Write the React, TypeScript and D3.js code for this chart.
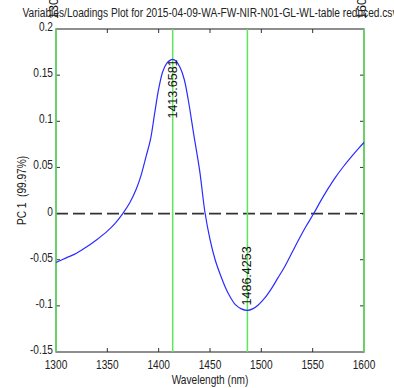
import React from "react";
import * as d3 from "d3";

const wavelengths = [1300, 1310, 1320, 1330, 1340, 1350, 1358, 1365, 1372, 1378, 1383, 1388, 1392, 1396, 1400, 1404, 1408, 1411, 1413.66, 1417, 1421, 1425, 1429, 1434, 1440, 1445, 1450, 1455, 1460, 1465, 1470, 1475, 1480, 1486.43, 1492, 1497, 1503, 1510, 1516, 1523, 1530, 1537, 1544, 1551, 1558, 1565, 1572, 1580, 1588, 1595, 1600];
const loadings = [-0.053, -0.048, -0.043, -0.036, -0.028, -0.019, -0.01, 0.0, 0.012, 0.026, 0.042, 0.063, 0.08, 0.108, 0.135, 0.154, 0.163, 0.166, 0.167, 0.165, 0.158, 0.145, 0.122, 0.087, 0.046, 0.002, -0.028, -0.05, -0.066, -0.08, -0.091, -0.099, -0.103, -0.105, -0.103, -0.099, -0.092, -0.081, -0.07, -0.057, -0.042, -0.027, -0.013, 0.0, 0.014, 0.027, 0.039, 0.051, 0.062, 0.071, 0.077];
const xTicks = [1300, 1350, 1400, 1450, 1500, 1550, 1600];
const yTicks = [-0.15, -0.1, -0.05, 0, 0.05, 0.1, 0.15, 0.2];
const yTickLabels = ["-0.15", "-0.1", "-0.05", "0", "0.05", "0.1", "0.15", "0.2"];
const markerLines = [1300, 1413.6581, 1486.4253, 1600];
const markerLabels = ["1300", "1413.6581", "1486.4253", "1600"];
const markerValues = [0.2, 0.167, -0.105, 0.2];
const titleText = "Variables/Loadings Plot for 2015-04-09-WA-FW-NIR-N01-GL-WL-table reduced.csv";
const xLabel = "Wavelength (nm)";
const yLabel = "PC 1  (99.97%)";

const W = 394, H = 388;
const left = 56, right = 364, top = 29, bottom = 352;

export default function App() {
  const x = d3.scaleLinear().domain([1300, 1600]).range([left, right]);
  const y = d3.scaleLinear().domain([-0.15, 0.2]).range([bottom, top]);
  const line = d3
    .line<number>()
    .x((_, i) => x(wavelengths[i]))
    .y((d) => y(d))
    .curve(d3.curveCatmullRom);
  const font = "Arial, 'Liberation Sans', sans-serif";
  const sx = 0.78;
  const fs = 13;
  return (
    <svg
      width={W}
      height={H}
      style={{ position: "absolute", left: 0, top: 0, background: "#fff" }}
      fontFamily={font}
    >
      <rect x={0} y={0} width={W} height={H} fill="#fff" />
      <line x1={left} x2={right} y1={y(0)} y2={y(0)} stroke="#333" strokeWidth={1.8} strokeDasharray="12,5" />
      <rect x={left} y={top} width={right - left} height={bottom - top} fill="none" stroke="#444" strokeWidth={1.2} />
      {xTicks.slice(1, -1).map((t) => (
        <g key={"xt" + t}>
          <line x1={x(t)} x2={x(t)} y1={bottom} y2={bottom - 4} stroke="#333" />
          <line x1={x(t)} x2={x(t)} y1={top} y2={top + 4} stroke="#333" />
        </g>
      ))}
      {yTicks.slice(1, -1).map((t) => (
        <g key={"yt" + t}>
          <line x1={left} x2={left + 4} y1={y(t)} y2={y(t)} stroke="#333" />
          <line x1={right} x2={right - 4} y1={y(t)} y2={y(t)} stroke="#333" />
        </g>
      ))}
      {markerLines.map((m) => (
        <line key={"m" + m} x1={x(m)} x2={x(m)} y1={top} y2={bottom} stroke="#5ee65e" strokeWidth={1.5} />
      ))}
      <path d={line(loadings) || ""} fill="none" stroke="#2b2bff" strokeWidth={1.2} />
      {xTicks.map((t) => (
        <text
          key={"xl" + t}
          transform={`translate(${x(t)},${bottom + 17}) scale(${sx},1)`}
          textAnchor="middle"
          fontSize={fs}
          fill="#222"
        >
          {t}
        </text>
      ))}
      {yTicks.map((t, i) => (
        <text
          key={"yl" + t}
          transform={`translate(${left - 3},${y(t) + 2}) scale(${sx},1)`}
          textAnchor="end"
          fontSize={fs}
          fill="#222"
        >
          {yTickLabels[i]}
        </text>
      ))}
      <text transform={`translate(${(left + right) / 2},${bottom + 32}) scale(${sx},1)`} textAnchor="middle" fontSize={fs} fill="#222">
        {xLabel}
      </text>
      <text
        transform={`translate(26,${(top + bottom) / 2}) rotate(-90) scale(${sx},1)`}
        textAnchor="middle"
        fontSize={fs}
        fill="#222"
        style={{ whiteSpace: "pre" }}
      >
        {yLabel}
      </text>
      {markerLines.map((m, i) => {
        const edge = i === 0 || i === markerLines.length - 1;
        const yy = edge ? 19 : i === 1 ? y(markerValues[i]) : y(markerValues[i]) - 5;
        const anchor = i === 1 ? "end" : "start";
        return (
          <text
            key={"ml" + m}
            transform={`translate(${x(m) - (edge ? 2 : 0)},${yy}) rotate(-90)`}
            textAnchor={anchor}
            dominantBaseline="central"
            fontSize={12.5}
            fill="#111"
          >
            {markerLabels[i]}
          </text>
        );
      })}
      <text x={(left + right) / 2} y={17} textAnchor="middle" fontSize={12.5} fill="#222" textLength={375} lengthAdjust="spacingAndGlyphs">
        {titleText}
      </text>
    </svg>
  );
}
